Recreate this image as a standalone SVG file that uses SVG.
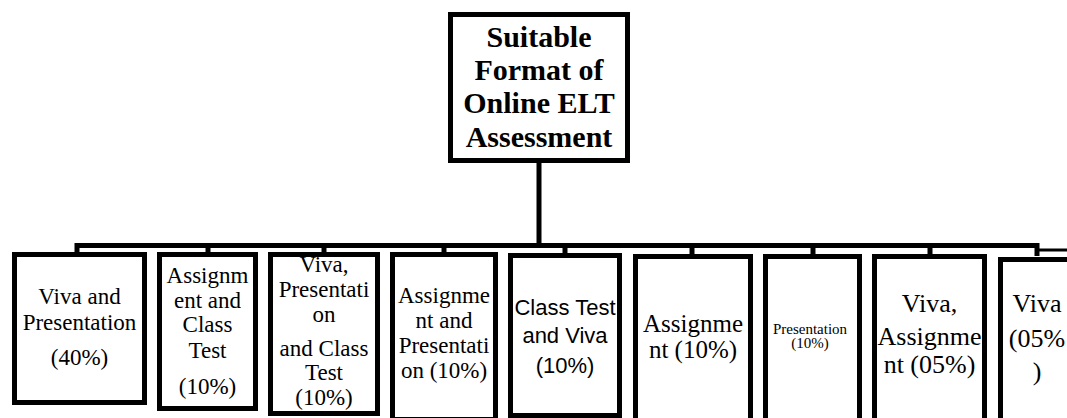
<svg xmlns="http://www.w3.org/2000/svg" width="1067" height="418" viewBox="0 0 1067 418">
<style>
.box{fill:#fff;stroke:#000;stroke-width:5}
.serif{font-family:"Liberation Serif","Times New Roman",serif;fill:#000;text-anchor:middle}
.sans{font-family:"Liberation Sans",Arial,sans-serif;fill:#000;text-anchor:middle}
.con{stroke:#000;stroke-width:5;fill:none}
</style>
<g id="connectors">
<line class="con" x1="539" y1="163" x2="539" y2="245"/>
<path class="con" d="M77,256 V245.5 H1037 V256"/>
<line class="con" x1="208" y1="245" x2="208" y2="256"/>
<line class="con" x1="324" y1="245" x2="324" y2="256"/>
<line class="con" x1="444" y1="245" x2="444" y2="256"/>
<line class="con" x1="565" y1="245" x2="565" y2="256"/>
<line class="con" x1="692" y1="245" x2="692" y2="258"/>
<line class="con" x1="813" y1="245" x2="813" y2="258"/>
<line class="con" x1="930" y1="245" x2="930" y2="258"/>
<line stroke="#000" stroke-width="3" x1="1037" y1="250" x2="1067" y2="250"/>
</g>
<g id="root">
<rect class="box" x="450.5" y="14.5" width="177" height="146"/>
<text class="serif" font-size="30" font-weight="bold"><tspan x="539" y="47">Suitable</tspan><tspan x="539" y="80">Format of</tspan><tspan x="539" y="113">Online ELT</tspan><tspan x="539" y="147">Assessment</tspan></text>
</g>
<g id="n1">
<rect class="box" x="14.5" y="254.5" width="130" height="148"/>
<text class="serif" font-size="23"><tspan x="79.5" y="304">Viva and</tspan><tspan x="79.5" y="330">Presentation</tspan><tspan x="79.5" y="365">(40%)</tspan></text>
</g>
<g id="n2">
<rect class="box" x="159.5" y="254.5" width="96" height="154"/>
<text class="serif" font-size="23"><tspan x="207.5" y="283">Assignm</tspan><tspan x="207.5" y="308">ent and</tspan><tspan x="207.5" y="332">Class</tspan><tspan x="207.5" y="358">Test</tspan><tspan x="207.5" y="394">(10%)</tspan></text>
</g>
<g id="n3">
<text class="serif" font-size="23"><tspan x="324" y="272">Viva,</tspan><tspan x="324" y="297">Presentati</tspan><tspan x="324" y="322">on</tspan><tspan x="324" y="356">and Class</tspan><tspan x="324" y="380">Test</tspan><tspan x="324" y="405">(10%)</tspan></text>
<rect class="box" style="fill:none" x="270.5" y="254.5" width="107" height="159"/>
</g>
<g id="n4">
<rect class="box" x="392.5" y="254.5" width="103" height="165"/>
<text class="serif" font-size="23"><tspan x="444" y="303">Assignme</tspan><tspan x="444" y="328">nt and</tspan><tspan x="444" y="353">Presentati</tspan><tspan x="444" y="378">on (10%)</tspan></text>
</g>
<g id="n5">
<rect class="box" x="510.5" y="255.5" width="109" height="160"/>
<text class="sans" font-size="22"><tspan x="565" y="315">Class Test</tspan><tspan x="565" y="343">and Viva</tspan><tspan x="565" y="373">(10%)</tspan></text>
</g>
<g id="n6">
<rect class="box" x="635.5" y="256.5" width="115" height="180"/>
<text class="serif" font-size="25"><tspan x="693" y="332">Assignme</tspan><tspan x="693" y="358">nt (10%)</tspan></text>
</g>
<g id="n7">
<rect class="box" x="765.5" y="256.5" width="94" height="180"/>
<text class="serif" font-size="15"><tspan x="810" y="334">Presentation</tspan><tspan x="810" y="348">(10%)</tspan></text>
</g>
<g id="n8">
<rect class="box" x="874.5" y="256.5" width="110" height="180"/>
<text class="serif" font-size="26"><tspan x="929.5" y="312">Viva,</tspan><tspan x="929.5" y="345">Assignme</tspan><tspan x="929.5" y="373">nt (05%)</tspan></text>
</g>
<g id="n9">
<rect class="box" x="1000.5" y="259.5" width="100" height="180"/>
<text class="serif" font-size="26"><tspan x="1037" y="312">Viva</tspan><tspan x="1037" y="347">(05%</tspan><tspan x="1037" y="380">)</tspan></text>
</g>
</svg>
